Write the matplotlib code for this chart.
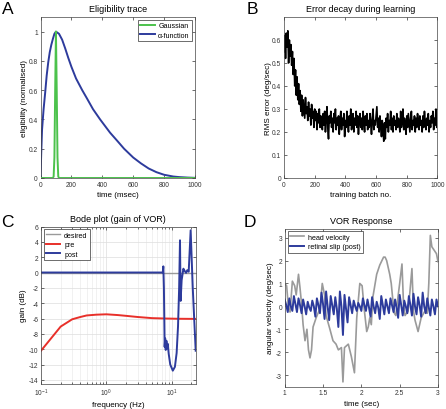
import matplotlib
matplotlib.use('Agg')
import matplotlib.pyplot as plt

plt.rcParams['font.family'] = ['Liberation Sans', 'DejaVu Sans']
plt.rcParams['axes.linewidth'] = 0.5
plt.rcParams['axes.edgecolor'] = '#444444'
plt.rcParams['axes.unicode_minus'] = False

# ---------- data ----------
# A: eligibility trace
t_alpha = [0, 5, 10, 20, 30, 40, 50, 60, 70, 80, 90, 100, 120, 140, 160, 180,
           200, 230, 270, 300, 340, 386, 450, 500, 541, 600, 650, 700, 750, 800,
           860, 900, 950, 1000]
y_alpha = [0, 0.18, 0.33, 0.47, 0.58, 0.70, 0.79, 0.86, 0.91, 0.95, 0.985, 1.0,
           0.985, 0.945, 0.885, 0.82, 0.76, 0.68, 0.60, 0.545, 0.47, 0.40, 0.31,
           0.25, 0.20, 0.14, 0.10, 0.065, 0.04, 0.022, 0.01, 0.006, 0.003, 0.001]
t_gauss = [0, 80, 85, 90, 95, 100, 105, 110, 115, 120, 1000]
y_gauss = [0, 0, 0.01, 0.14, 0.6, 1.0, 0.6, 0.14, 0.01, 0, 0]

# B: RMS error per training batch (every 5th batch)
batch = list(range(0, 1001, 5))
rms_err = [0.55, 0.62, 0.52, 0.63, 0.57, 0.64, 0.50, 0.60, 0.53, 0.58, 0.49,
           0.55, 0.45, 0.52, 0.40, 0.47, 0.36, 0.44, 0.34, 0.41, 0.32,
           0.38, 0.29, 0.36, 0.27, 0.34, 0.30, 0.26, 0.35, 0.28, 0.31,
           0.25, 0.33, 0.27, 0.30, 0.23, 0.32, 0.26, 0.29, 0.22, 0.30,
           0.25, 0.29, 0.21, 0.28, 0.24, 0.30, 0.22, 0.27, 0.25, 0.21,
           0.28, 0.23, 0.29, 0.20, 0.26, 0.31, 0.22, 0.17, 0.27, 0.24,
           0.29, 0.22, 0.26, 0.20, 0.28, 0.24, 0.30, 0.21, 0.26, 0.23,
           0.27, 0.19, 0.25, 0.29, 0.21, 0.26, 0.23, 0.28, 0.18, 0.25,
           0.22, 0.29, 0.24, 0.20, 0.27, 0.23, 0.30, 0.21, 0.25, 0.28,
           0.20, 0.26, 0.23, 0.29, 0.22, 0.27, 0.19, 0.25, 0.28, 0.22,
           0.26, 0.21, 0.29, 0.24, 0.20, 0.27, 0.23, 0.28, 0.21, 0.25,
           0.22, 0.28, 0.24, 0.19, 0.26, 0.30, 0.21, 0.25, 0.23, 0.27,
           0.31, 0.22, 0.26, 0.20, 0.27, 0.23, 0.18, 0.25, 0.21, 0.16,
           0.24, 0.17, 0.26, 0.22, 0.28, 0.20, 0.25, 0.23, 0.29, 0.21,
           0.26, 0.20, 0.27, 0.23, 0.25, 0.21, 0.28, 0.22, 0.26, 0.24,
           0.20, 0.29, 0.22, 0.25, 0.30, 0.21, 0.26, 0.23, 0.19, 0.27,
           0.22, 0.28, 0.24, 0.20, 0.26, 0.29, 0.21, 0.25, 0.23, 0.27,
           0.20, 0.26, 0.22, 0.28, 0.24, 0.21, 0.27, 0.23, 0.25, 0.20,
           0.27, 0.22, 0.29, 0.24, 0.21, 0.26, 0.23, 0.28, 0.20, 0.25,
           0.22, 0.27, 0.24, 0.29, 0.21, 0.26, 0.23, 0.30, 0.22, 0.25]

# C: Bode plot
f_desired = [0.1, 23.3]
g_desired = [0, 0]
f_pre = [0.1, 0.2, 0.3, 0.4, 0.5, 0.7, 1, 1.5, 2, 3, 5, 8, 12, 23.3]
g_pre = [-10.2, -7.05, -6.1, -5.8, -5.6, -5.5, -5.45, -5.55, -5.65, -5.8,
         -5.95, -6.0, -6.03, -6.05]
f_post = [0.1, 7.3, 7.45, 7.6, 7.8, 7.95, 8.1, 8.3, 8.5, 8.7, 9.0, 9.5, 10.4,
          11.2, 11.9, 12.5, 13.0, 13.4, 13.7, 14.2, 15.1, 15.8, 16.6, 17.3,
          18.2, 19.5, 21.0, 23.3]
g_post = [0, 0, 0.8, -2, -9.7, -8.6, -10.1, -8.9, -9.9, -9.3, -10.6, -12.0,
          -12.8, -12.3, -10.5, -7.0, -2.0, 4.2, -3.7, -1.0, 0.5, 0.2, -0.05,
          0.3, 0.1, 5.5, -2.0, -10.2]

# D: VOR response
t_head = [1.00, 1.025, 1.05, 1.07, 1.10, 1.13, 1.15, 1.18, 1.20, 1.22, 1.24,
          1.265, 1.29, 1.31, 1.33, 1.35, 1.37, 1.41, 1.46, 1.49, 1.52, 1.54,
          1.59, 1.63, 1.67, 1.70, 1.74, 1.76, 1.78, 1.83, 1.87, 1.91, 1.94,
          1.98, 2.01, 2.04, 2.07, 2.09, 2.11, 2.13, 2.15, 2.20, 2.24, 2.29,
          2.31, 2.33, 2.35, 2.37, 2.39, 2.41, 2.43, 2.45, 2.47, 2.50, 2.53,
          2.55, 2.57, 2.61, 2.63, 2.66, 2.68, 2.70, 2.74, 2.78, 2.83, 2.86,
          2.88, 2.90, 2.92, 2.95, 2.98, 3.00]
v_head = [1.0, 0.9, -0.1, -0.25, 1.1, 0.9, 0.5, 1.4, 0.8, 0.1, -0.8, -1.5,
          -1.0, -1.9, -2.25, -1.9, -0.9, -0.5, -0.1, 1.0, 0.5, -0.4, -1.0,
          -1.5, -1.65, -1.9, -1.8, -3.3, -1.8, -1.65, -2.2, -2.9, -0.5, 1.0,
          0.9, -0.2, -1.1, -0.9, -0.5, -0.8, 0.4, 1.4, 1.8, 2.15, 2.15, 2.0,
          1.7, 1.4, 1.0, 0.3, -0.3, -0.4, 0.2, 1.0, 1.85, 0.1, -0.4, -0.2,
          0.5, 1.65, -0.2, -0.6, -1.1, -0.5, -0.2, -0.3, 1.0, 3.1, 2.6, 2.45,
          2.3, 1.95]
t_slip = [1 + 0.02 * i for i in range(101)]
v_slip = [0.3, 0.05, -0.25, 0.35, 0.0, -0.2, 0.45, 0.1, -0.25,
          0.35, 0.05, -0.3, 0.3, 0.0, -0.35, 0.2, -0.05, -0.2,
          0.25, 0.0, -0.45, 0.35, 0.05, -0.3, 0.6, 0.1, -0.55,
          0.65, 0.0, -0.6, 0.45, 0.05, -0.35, 0.4, -0.1, -0.9,
          0.65, 0.0, -1.25, 0.5, -0.1, -0.7, 0.4, 0.05, -0.3,
          0.25, 0.0, -0.2, 0.15, 0.0, -0.2, 0.35, 0.05, -0.2,
          0.3, -0.05, -0.45, 0.4, 0.0, -0.3, 0.2, -0.05, -0.55,
          0.45, 0.05, -0.35, 0.3, 0.0, -0.3, 0.35, 0.05, -0.25,
          0.3, -0.05, -0.5, 0.5, 0.05, -0.4, 0.25, 0.0, -0.3,
          0.45, 0.05, -0.4, 0.55, 0.0, -0.35, 0.4, 0.05, -0.45,
          0.6, 0.0, -0.3, 0.35, -0.05, -0.4, 0.3, 0.0, -0.35,
          0.3, 0.0]

GREEN = '#4cc24c'
BLUE = '#2d3b9c'
RED = '#e8302a'
GREY = '#9a9a9a'

W, H = 446, 410
fig = plt.figure(figsize=(W / 100, H / 100), dpi=100)


def axes_px(left, top, right, bottom):
    return fig.add_axes([left / W, 1 - bottom / H, (right - left) / W, (bottom - top) / H])


def style(ax):
    ax.tick_params(direction='in', length=2.5, width=0.5, labelsize=4.8,
                   top=True, right=True, pad=2, colors='#333333')
    ax.tick_params(which='minor', direction='in', length=1.5, width=0.4,
                   top=True, right=True)


def legend(ax, loc):
    lg = ax.legend(loc=loc, fontsize=5.1, handlelength=2.0, borderpad=0.35,
                   labelspacing=0.35, handletextpad=0.5, fancybox=False,
                   framealpha=1, borderaxespad=0.4)
    lg.get_frame().set_linewidth(0.5)
    lg.get_frame().set_edgecolor('#333333')


# A
axA = axes_px(40.5, 18, 195, 179)
axA.plot(t_gauss, y_gauss, color=GREEN, lw=1.4, label='Gaussian', zorder=3)
axA.plot(t_alpha, y_alpha, color=BLUE, lw=1.4, label='\u03b1-function', zorder=2)
axA.set_xlim(0, 1000)
axA.set_ylim(0, 1.1)
axA.set_xticks([0, 200, 400, 600, 800, 1000])
axA.set_yticks([0, 0.2, 0.4, 0.6, 0.8, 1])
axA.set_yticklabels(['0', '0.2', '0.4', '0.6', '0.8', '1'])
axA.set_title('Eligibility trace', fontsize=6.5, pad=4)
axA.set_xlabel('time (msec)', fontsize=5.8, labelpad=2.5)
axA.set_ylabel('eligibility (normalised)', fontsize=5.8)
axA.yaxis.set_label_coords(-0.083, 0.5)
style(axA)
legend(axA, 'upper right')

# B
axB = axes_px(284, 18, 437.5, 179)
axB.plot(batch, rms_err, color='black', lw=1.2)
axB.set_xlim(0, 1000)
axB.set_ylim(0, 0.7)
axB.set_xticks([0, 200, 400, 600, 800, 1000])
axB.set_yticks([0, 0.1, 0.2, 0.3, 0.4, 0.5, 0.6])
axB.set_yticklabels(['0', '0.1', '0.2', '0.3', '0.4', '0.5', '0.6'])
axB.set_title('Error decay during learning', fontsize=6.5, pad=4)
axB.set_xlabel('training batch no.', fontsize=5.8, labelpad=2.5)
axB.set_ylabel('RMS error (deg/sec)', fontsize=5.8)
axB.yaxis.set_label_coords(-0.077, 0.5)
style(axB)

# C
axC = axes_px(41, 227.5, 195.7, 384.7)
axC.plot(f_desired, g_desired, color=GREY, lw=1.0, label='desired')
axC.plot(f_pre, g_pre, color=RED, lw=1.4, label='pre')
axC.plot(f_post, g_post, color=BLUE, lw=1.4, label='post')
axC.set_xscale('log')
axC.set_xlim(0.1, 23.3)
axC.set_ylim(-14.5, 6)
axC.set_yticks(list(range(-14, 7, 2)))
axC.grid(True, which='major', color='#dddddd', lw=0.5)
axC.grid(True, which='minor', axis='x', color='#e6e6e6', lw=0.4)
axC.set_axisbelow(True)
axC.set_title('Bode plot (gain of VOR)', fontsize=6.5, pad=4)
axC.set_xlabel('frequency (Hz)', fontsize=5.8, labelpad=2)
axC.set_ylabel('gain (dB)', fontsize=5.8)
axC.yaxis.set_label_coords(-0.093, 0.5)
style(axC)
legend(axC, 'upper left')

# D
axD = axes_px(284.7, 229.5, 438, 387.5)
axD.plot(t_head, v_head, color=GREY, lw=1.2, label='head velocity')
axD.plot(t_slip, v_slip, color=BLUE, lw=1.4, label='retinal slip (post)')
axD.set_xlim(1, 3)
axD.set_ylim(-3.5, 3.4)
axD.set_xticks([1, 1.5, 2, 2.5, 3])
axD.set_xticklabels(['1', '1.5', '2', '2.5', '3'])
axD.set_yticks([-3, -2, -1, 0, 1, 2, 3])
axD.set_title('VOR Response', fontsize=6.5, pad=4)
axD.set_xlabel('time (sec)', fontsize=5.8, labelpad=2.5)
axD.set_ylabel('angular velocity (deg/sec)', fontsize=5.8)
axD.yaxis.set_label_coords(-0.068, 0.5)
style(axD)
legend(axD, 'upper left')

# panel letters
for x, y, s in [(1.5, 1.5, 'A'), (247, 1.5, 'B'), (1, 215, 'C'), (244, 215, 'D')]:
    fig.text(x / W, 1 - y / H, s, fontsize=12.5, va='top', ha='left')

fig.savefig('out.png', dpi=100)
